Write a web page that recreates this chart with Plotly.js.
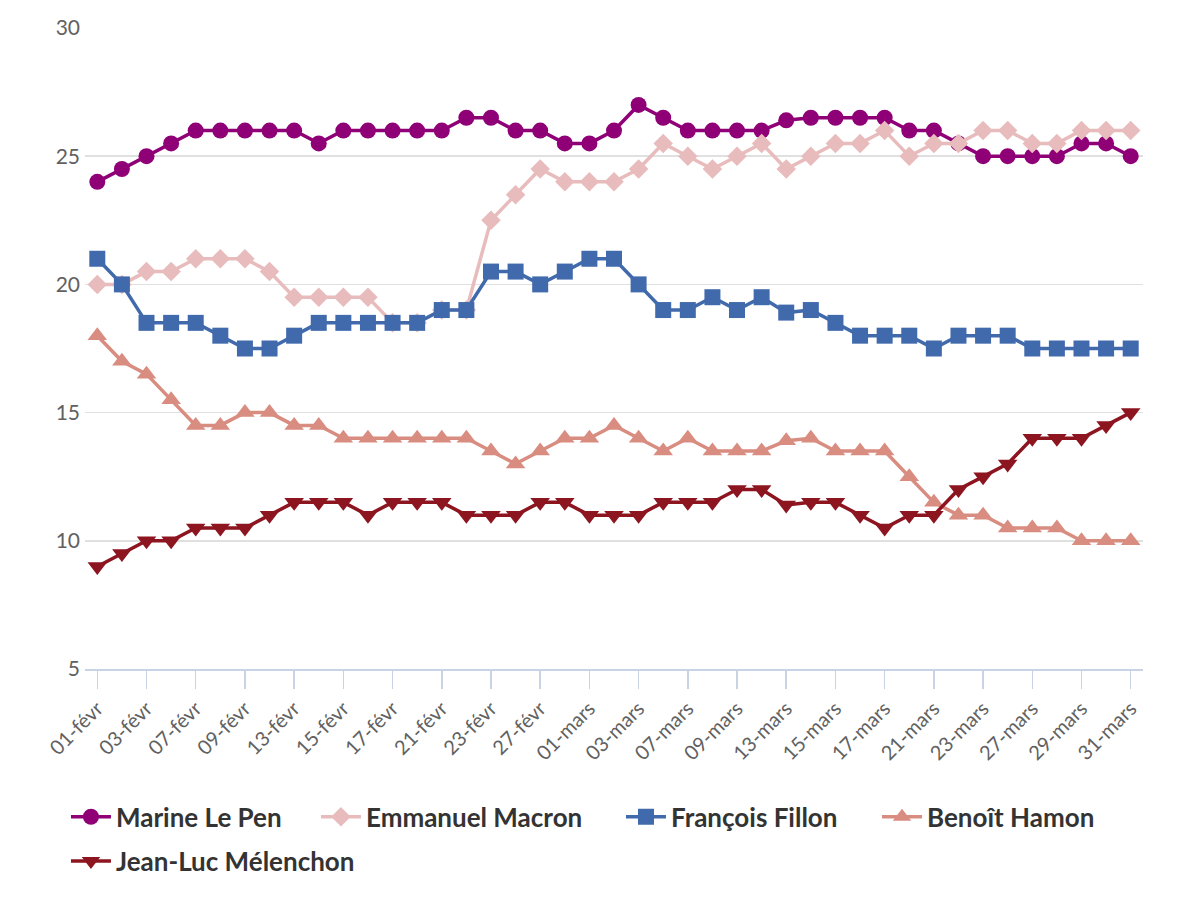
<!DOCTYPE html>
<html>
<head>
<meta charset="utf-8">
<script src="https://cdn.plot.ly/plotly-3.0.1.min.js"></script>
<style>html,body{margin:0;padding:0;background:#fff;}#chart{width:1183px;height:900px;}</style>
</head>
<body>
<div id="chart"></div>
<script>
const dates = ["01-févr","02-févr","03-févr","06-févr","07-févr","08-févr","09-févr","10-févr","13-févr","14-févr","15-févr","16-févr","17-févr","20-févr","21-févr","22-févr","23-févr","24-févr","27-févr","28-févr",
"01-mars","02-mars","03-mars","06-mars","07-mars","08-mars","09-mars","10-mars","13-mars","14-mars","15-mars","16-mars","17-mars","20-mars","21-mars","22-mars","23-mars","24-mars","27-mars","28-mars","29-mars","30-mars","31-mars"];
const tickLabels = ["01-févr","03-févr","07-févr","09-févr","13-févr","15-févr","17-févr","21-févr","23-févr","27-févr","01-mars","03-mars","07-mars","09-mars","13-mars","15-mars","17-mars","21-mars","23-mars","27-mars","29-mars","31-mars"];

const lePen =     [24,24.5,25,25.5,26,26,26,26,26,25.5,26,26,26,26,26,26.5,26.5,26,26,25.5,25.5,26,27,26.5,26,26,26,26,26.4,26.5,26.5,26.5,26.5,26,26,25.5,25,25,25,25,25.5,25.5,25];
const macron =    [20,20,20.5,20.5,21,21,21,20.5,19.5,19.5,19.5,19.5,18.5,18.5,19,19,22.5,23.5,24.5,24,24,24,24.5,25.5,25,24.5,25,25.5,24.5,25,25.5,25.5,26,25,25.5,25.5,26,26,25.5,25.5,26,26,26];
const fillon =    [21,20,18.5,18.5,18.5,18,17.5,17.5,18,18.5,18.5,18.5,18.5,18.5,19,19,20.5,20.5,20,20.5,21,21,20,19,19,19.5,19,19.5,18.9,19,18.5,18,18,18,17.5,18,18,18,17.5,17.5,17.5,17.5,17.5];
const hamon =     [18,17,16.5,15.5,14.5,14.5,15,15,14.5,14.5,14,14,14,14,14,14,13.5,13,13.5,14,14,14.5,14,13.5,14,13.5,13.5,13.5,13.9,14,13.5,13.5,13.5,12.5,11.5,11,11,10.5,10.5,10.5,10,10,10];
const melenchon = [9,9.5,10,10,10.5,10.5,10.5,11,11.5,11.5,11.5,11,11.5,11.5,11.5,11,11,11,11.5,11.5,11,11,11,11.5,11.5,11.5,12,12,11.4,11.5,11.5,11,10.5,11,11,12,12.5,13,14,14,14,14.5,15];

const seriesNames = ["Marine Le Pen","Emmanuel Macron","François Fillon","Benoît Hamon","Jean-Luc Mélenchon"];
const seriesData = [lePen, macron, fillon, hamon, melenchon];
const colors = ["#8f0077","#e8bcbc","#416aad","#d98c80","#8c1520"];
const symbols = ["circle","diamond","square","triangle-up","triangle-down"];
const sizes = [16,15,16,17,17];
const legendIds = ["legend","legend2","legend3","legend4","legend5"];

const traces = seriesNames.map((n,i)=>({
  type:"scatter", mode:"lines+markers", name:n, x:dates, y:seriesData[i],
  line:{color:colors[i], width:3.5},
  marker:{symbol:symbols[i], size:sizes[i], color:colors[i]},
  legend:legendIds[i]
}));

const legendFont = {size:26, color:"#333", family:"Lato, sans-serif", weight:"bold"};
function leg(x, y){
  return {orientation:"h", x:x, xanchor:"left", y:y, yanchor:"top", font:legendFont, itemwidth:40, bgcolor:"rgba(0,0,0,0)"};
}

const layout = {
  width:1183, height:900,
  margin:{l:85, r:40, t:28, b:231},
  paper_bgcolor:"#fff", plot_bgcolor:"#fff",
  font:{family:"Lato, 'Open Sans', sans-serif", color:"#595959"},
  showlegend:true,
  xaxis:{
    type:"category", range:[-0.5,42.5], automargin:false,
    tickmode:"array", tickvals:tickLabels, ticktext:tickLabels,
    tickangle:-45, ticks:"outside", ticklen:18, tickwidth:1.5, tickcolor:"#c8d3e6",
    showline:true, linecolor:"#c8d3e6", linewidth:2,
    showgrid:false, zeroline:false,
    tickfont:{size:20, color:"#616161"}
  },
  yaxis:{
    range:[5,30], tickvals:[5,10,15,20,25,30], automargin:false,
    showgrid:true, gridcolor:"#e0e0e0", gridwidth:1.5,
    zeroline:false, showline:false, ticks:"",
    ticklabelstandoff:4,
    tickfont:{size:21, color:"#616161"}
  },
  legend:  leg(-0.018, -0.194),
  legend2: leg(0.2183, -0.194),
  legend3: leg(0.5066, -0.194),
  legend4: leg(0.7486, -0.194),
  legend5: leg(-0.018, -0.263)
};

Plotly.newPlot("chart", traces, layout, {displayModeBar:false, staticPlot:true});
</script>
</body>
</html>
